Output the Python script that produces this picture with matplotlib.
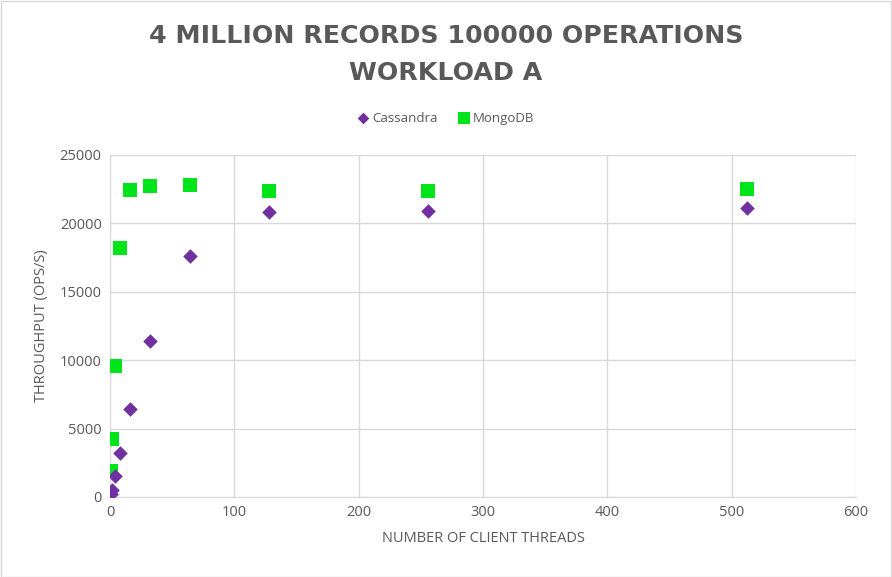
import matplotlib
matplotlib.use("Agg")
import matplotlib.pyplot as plt
from matplotlib.patches import Rectangle

plt.rcParams['font.family'] = ['Open Sans', 'DejaVu Sans']

threads = [1, 2, 4, 8, 16, 32, 64, 128, 256, 512]
cassandra = [250, 500, 1540, 3240, 6460, 11400, 17640, 20810, 20940, 21150]
mongodb = [1900, 4220, 9540, 18200, 22450, 22720, 22840, 22400, 22400, 22550]
title = "4 MILLION RECORDS 100000 OPERATIONS\nWORKLOAD A"
xlabel = "NUMBER OF CLIENT THREADS"
ylabel = "THROUGHPUT (OPS/S)"

W, H = 892, 577
fig = plt.figure(figsize=(W / 100, H / 100), dpi=100)
ax = fig.add_axes([110 / W, 1 - 497 / H, (856 - 110) / W, (497 - 155) / H])

gray = '#595959'
ax.scatter(threads, mongodb, marker='s', s=110, color='#00E51A', label='MongoDB', zorder=3, linewidths=0)
ax.scatter(threads, cassandra, marker='D', s=55, color='#7030A0', label='Cassandra', zorder=4, linewidths=0)

ax.set_xlim(0, 600)
ax.set_ylim(0, 25000)
ax.set_xticks(range(0, 601, 100))
ax.set_yticks(range(0, 25001, 5000))
ax.grid(True, color='#D9D9D9', linewidth=1)
ax.set_axisbelow(True)
for s in ['top', 'right']:
    ax.spines[s].set_visible(False)
ax.spines['left'].set_color('#D9D9D9')
ax.spines['bottom'].set_color('#D9D9D9')
ax.tick_params(length=0, labelsize=10.5, colors=gray, pad=6)

ax.set_xlabel(xlabel, fontsize=10.5, color=gray, labelpad=8)
ax.set_ylabel(ylabel, fontsize=10.5, color=gray, labelpad=8)

fig.text(0.5, 1 - 54.5 / H, title, ha='center', va='center', fontsize=18.2,
         fontweight='bold', color=gray, linespacing=1.65, family=['DejaVu Sans'])

h, l = ax.get_legend_handles_labels()
leg = fig.legend([h[1], h[0]], [l[1], l[0]], loc='center', bbox_to_anchor=(0.5, 1 - 118 / H),
                 ncol=2, frameon=False, fontsize=9.5, handletextpad=0.3, columnspacing=1.6,
                 markerscale=0.8, handlelength=0.8)
for t in leg.get_texts():
    t.set_color(gray)

fig.patches.append(Rectangle((0.5 / W, 0.5 / H), 1 - 1.5 / W, 1 - 1.5 / H, transform=fig.transFigure,
                             fill=False, edgecolor='#D9D9D9', linewidth=1))

fig.savefig('out.png', dpi=100, facecolor='white')
